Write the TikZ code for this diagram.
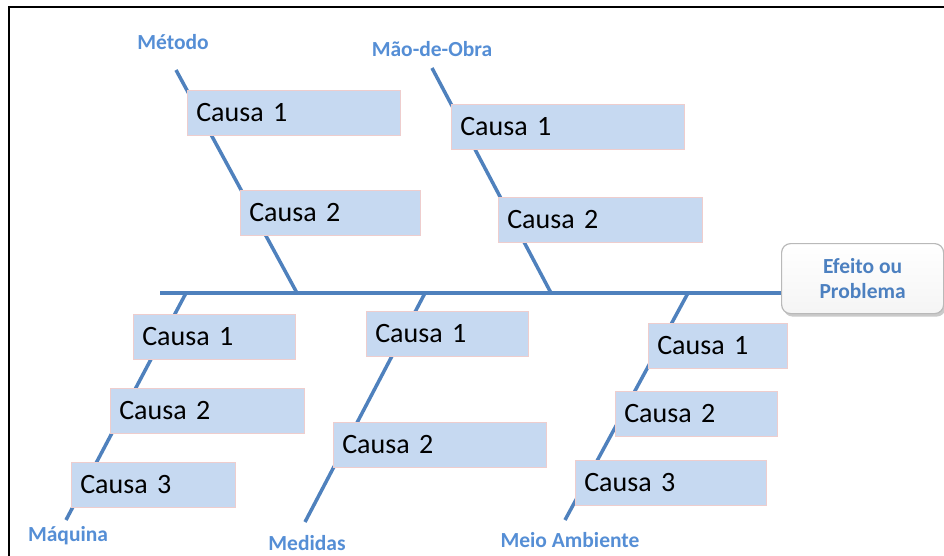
\documentclass[tikz,border=0pt]{standalone}
\usepackage{fontspec}
\setmainfont{Carlito}
\usetikzlibrary{shadows}
\definecolor{bonecol}{RGB}{79,129,189}
\definecolor{labelcol}{RGB}{85,142,213}
\definecolor{boxfill}{RGB}{198,217,241}
\definecolor{boxedge}{RGB}{238,205,205}
\definecolor{effedge}{RGB}{185,185,185}
\tikzset{
  bone/.style={draw=bonecol, line width=3.5pt},
  causabox/.style={fill=boxfill, draw=boxedge, line width=0.6pt, anchor=north west,
    inner xsep=9pt, inner ysep=0pt, minimum height=45pt, align=left,
    font=\fontsize{28}{32}\selectfont, text=black},
  catlabel/.style={text=labelcol, font=\fontsize{21.5}{24}\selectfont\bfseries, inner sep=0pt},
  effect/.style={draw=effedge, line width=1.2pt, rounded corners=9pt, anchor=north west,
    top color=white, bottom color=black!4, align=center,
    minimum width=162pt, minimum height=70pt, text=labelcol!90!black,
    font=\fontsize{21.5}{25}\selectfont\bfseries,
    drop shadow={shadow xshift=2pt, shadow yshift=-3pt, opacity=0.35, fill=black!60}}
}
\begin{document}
\begin{tikzpicture}[x=1pt, y=-1pt]
\useasboundingbox (0,0) rectangle (944,555);
% frame
\begin{scope}
  \clip (0,0) rectangle (944,555);
  \draw[line width=2pt, black] (9,570) -- (9,7) -- (960,7);
\end{scope}

% bone end points
\coordinate (tail) at (160,293);
\coordinate (metTop) at (176,70);   \coordinate (metFoot) at (297,293);
\coordinate (maoTop) at (432,68);   \coordinate (maoFoot) at (551,293);
\coordinate (maqFoot) at (186,293); \coordinate (maqEnd) at (66,520);
\coordinate (medFoot) at (425,293); \coordinate (medEnd) at (305,522);
\coordinate (meiFoot) at (688,293); \coordinate (meiEnd) at (565,520);

% effect box
\node[effect] (eff) at (781,243) {Efeito ou\\Problema};

% spine and bones
\draw[bone] (tail) -- (tail -| eff.west);
\draw[bone] (metTop) -- (metFoot);
\draw[bone] (maoTop) -- (maoFoot);
\draw[bone] (maqFoot) -- (maqEnd);
\draw[bone] (medFoot) -- (medEnd);
\draw[bone] (meiFoot) -- (meiEnd);

% category labels
\node[catlabel] (lmet) at (173,42) {Método};
\node[catlabel] (lmao) at (432,49) {Mão-de-Obra};
\node[catlabel] (lmaq) at (68,536) {Máquina};
\node[catlabel] (lmed) at (307,543) {Medidas};
\node[catlabel] (lmei) at (570,540) {Meio Ambiente};

% causes: Método
\node[causabox, text width=195pt] (met1) at (187,90)  {Causa 1};
\node[causabox, text width=162pt] (met2) at (240,190) {Causa 2};
% causes: Mão-de-Obra
\node[causabox, text width=215pt] (mao1) at (451,104) {Causa 1};
\node[causabox, text width=186pt] (mao2) at (498,197) {Causa 2};
% causes: Máquina
\node[causabox, text width=144pt] (maq1) at (133,314) {Causa 1};
\node[causabox, text width=176pt] (maq2) at (110,388) {Causa 2};
\node[causabox, text width=146pt] (maq3) at (71,462)  {Causa 3};
% causes: Medidas
\node[causabox, text width=144pt] (med1) at (366,311) {Causa 1};
\node[causabox, text width=195pt] (med2) at (333,422) {Causa 2};
% causes: Meio Ambiente
\node[causabox, text width=121pt] (mei1) at (648,323) {Causa 1};
\node[causabox, text width=144pt] (mei2) at (615,391) {Causa 2};
\node[causabox, text width=173pt] (mei3) at (575,460) {Causa 3};
\end{tikzpicture}
\end{document}
